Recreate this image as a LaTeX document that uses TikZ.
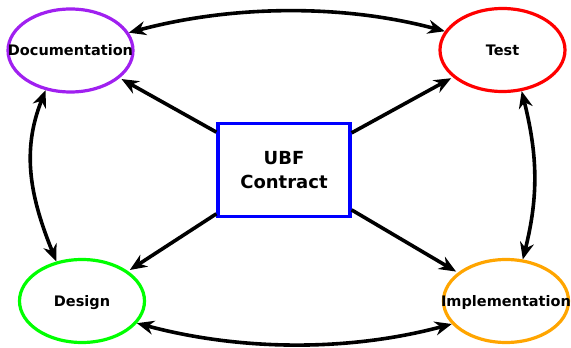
\documentclass[tikz,border=0pt]{standalone}
\usepackage{fontspec}
\setmainfont{DejaVu Sans}
\usetikzlibrary{arrows.meta,shapes.geometric}
\definecolor{gvpurple}{HTML}{A020F0}
\definecolor{gvred}{HTML}{FF0000}
\definecolor{gvgreen}{HTML}{00FF00}
\definecolor{gvorange}{HTML}{FFA500}
\definecolor{gvblue}{HTML}{0000FF}
\begin{document}
\begin{tikzpicture}[x=1pt,y=1pt,
  ell/.style={ellipse, draw, line width=3.2pt, minimum width=125pt, minimum height=83pt, inner sep=0pt},
  lbl/.style={font=\bfseries\fontsize{14.5}{17}\selectfont, inner sep=0pt, anchor=base, yshift=-5.3pt},
  gvtip/.tip={Stealth[length=17pt,width=14pt,inset=5.5pt]},
  arr/.style={line width=3.6pt, -gvtip, shorten >=2pt},
  darr/.style={line width=3.6pt, gvtip-gvtip}
]
\useasboundingbox (0,0) rectangle (571,348);
% nodes
\node[ell, draw=gvpurple] (doc) at (70.5,297.5) {};
\node[lbl] (doclbl) at (doc.center) {Documentation};
\node[ell, draw=gvred] (test) at (502.5,298) {};
\node[lbl] (testlbl) at (test.center) {Test};
\node[ell, draw=gvgreen] (des) at (82,47) {};
\node[lbl] (deslbl) at (des.center) {Design};
\node[ell, draw=gvorange] (impl) at (506,47) {};
\node[lbl] (impllbl) at (impl.center) {Implementation};
\node[draw=gvblue, line width=3.2pt, minimum width=132pt, minimum height=93.6pt, inner sep=0pt,
      align=center, font=\bfseries\fontsize{18}{24}\selectfont] (ubf) at (284,178) {UBF\\Contract};
% straight arrows
\draw[arr] (ubf) -- (doc);
\draw[arr] (ubf) -- (test);
\draw[arr] (ubf) -- (des);
\draw[arr] (ubf) -- (impl);
% curved double arrows
\draw[darr] (doc.17.5) to[out=15, in=165, looseness=0.86] (test.162.7);
\draw[darr] (des.338.4) to[out=-15, in=195, looseness=0.87] (impl.203.2);
\draw[darr] (doc.238.3) to[out=248, in=112] (des.123.4);
\draw[darr] (test.295) to[out=284, in=76] (impl.68.4);
\end{tikzpicture}
\end{document}
